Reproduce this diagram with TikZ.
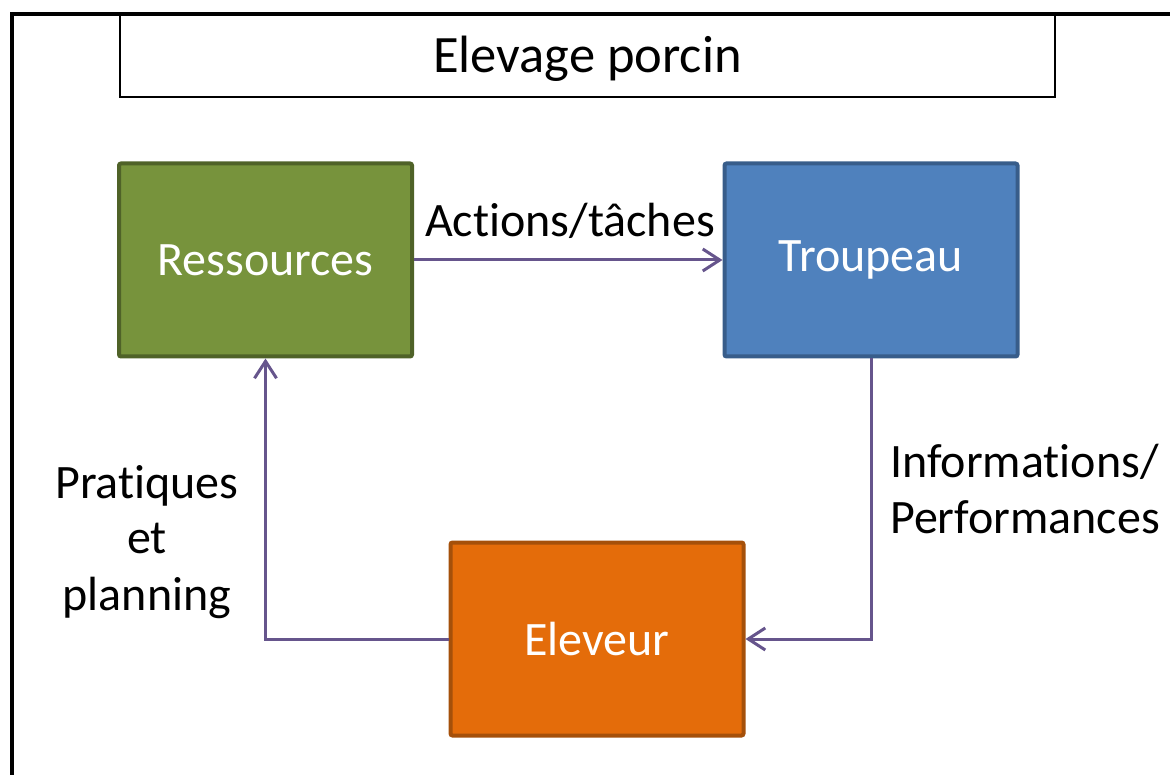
\documentclass[tikz,border=0pt]{standalone}
\usepackage{fontspec}
\setmainfont{Carlito}[Ligatures={NoCommon,NoRare}]
\usetikzlibrary{arrows.meta}
\newcommand{\tiNoLig}{t\kern0pt i}
\definecolor{gfill}{HTML}{77933C}
\definecolor{gline}{HTML}{4F6228}
\definecolor{bfill}{HTML}{4F81BD}
\definecolor{bline}{HTML}{385D8A}
\definecolor{ofill}{HTML}{E46C0A}
\definecolor{oline}{HTML}{A5500A}
\definecolor{arr}{HTML}{66558C}
\tikzset{
  box/.style={draw, line width=4pt, rounded corners=2pt, minimum width=293pt, minimum height=193pt, inner sep=0pt, text=white, font=\fontsize{48}{58}\selectfont},
  conn/.style={draw=arr, line width=3pt, -{Straight Barb[length=17pt,width=22pt,line width=3pt]}},
  lbl/.style={inner sep=0pt, font=\fontsize{48}{56}\selectfont}
}
\begin{document}
\begin{tikzpicture}[x=1pt,y=1pt]
\useasboundingbox (0,0) rectangle (1170,-775);
\clip (0,0) rectangle (1170,-775);
\draw[line width=4pt] (12,-1000) -- (12,-14.5) -- (1300,-14.5);
\node[draw, line width=2pt, minimum width=935pt, minimum height=82pt, inner sep=0pt] (title) at (587.5,-56) {};
\node[lbl, anchor=base, font=\fontsize{52.5}{62}\selectfont] (titletext) at (587.5,-73) {Elevage porcin};
\node[box, fill=gfill, draw=gline] (res) at (265.5,-260) {Ressources};
\node[box, fill=bfill, draw=bline] (tro) at (871,-260) {Troupeau};
\node[box, fill=ofill, draw=oline] (ele) at (597,-639) {Eleveur};
\draw[conn] (res.east) -- (tro.west);
\draw[conn] (tro.south) |- (ele.east);
\draw[conn] (ele.west) -| (res.south);
\node[lbl, anchor=base] (act) at (570,-237) {Ac\tiNoLig ons/tâches};
\node[lbl, anchor=base west] (info) at (890,-477) {Informa\tiNoLig ons/};
\node[lbl, anchor=base west] (perf) at (890,-533) {Performances};
\node[lbl, anchor=base] (prat) at (147,-498) {Pra\tiNoLig ques};
\node[lbl, anchor=base] (et) at (147,-553) {et};
\node[lbl, anchor=base] (plan) at (147,-610) {planning};
\end{tikzpicture}
\end{document}
